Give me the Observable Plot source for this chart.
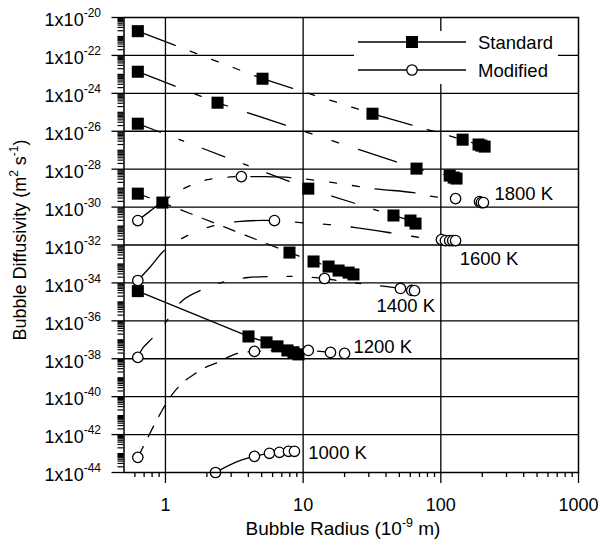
<!DOCTYPE html>
<html>
<head>
<meta charset="utf-8">
<script src="https://cdn.jsdelivr.net/npm/d3@7"></script>
<script src="https://cdn.jsdelivr.net/npm/@observablehq/plot@0.6"></script>
<style>
html,body{margin:0;padding:0;background:#fff;}
#chart svg{display:block;}
</style>
</head>
<body>
<div id="chart"></div>
<script>
// ---- data (radius in 1e-9 m, diffusivity in m^2 s^-1) ----
const temperatures = [1800, 1600, 1400, 1200, 1000];
const temperatureLabels = ["1800 K", "1600 K", "1400 K", "1200 K", "1000 K"];
const labelR = [245, 137, 34.1, 23.2, 10.9];
const labelD = [4.6e-30, 1.82e-33, 6.1e-36, 4.2e-38, 1.03e-43];

// Standard (filled squares)
const std1800R = [0.63, 5.07, 31.9, 144, 188, 197, 208];
const std1800D = [1.9e-21, 5.9e-24, 8.4e-26, 3.6e-27, 2.0e-27, 1.75e-27, 1.55e-27];
const std1600R = [0.63, 2.39, 66.6, 116, 124, 130];
const std1600D = [1.38e-23, 3.2e-25, 1.07e-28, 4.6e-29, 3.6e-29, 3.2e-29];
const std1400R = [0.63, 10.9, 45.3, 60.2, 65.5];
const std1400D = [2.5e-26, 9.4e-30, 3.6e-31, 1.95e-31, 1.35e-31];
const std1200R = [0.63, 0.95, 7.96, 11.9, 15.3, 18.1, 21.4, 23.2];
const std1200D = [5.1e-30, 1.73e-30, 4.0e-33, 1.35e-33, 7.3e-34, 4.5e-34, 3.5e-34, 2.8e-34];
const std1000R = [0.63, 4.01, 5.42, 6.51, 7.69, 8.51, 9.25];
const std1000D = [3.7e-35, 1.5e-37, 7.3e-38, 4.5e-38, 2.75e-38, 2.2e-38, 1.7e-38];

// Modified (open circles)
const mod1800R = [0.63, 3.56, 128, 191, 197, 204];
const mod1800D = [1.95e-31, 4.05e-29, 2.8e-30, 1.95e-30, 1.73e-30, 1.73e-30];
const mod1600R = [0.63, 6.19, 101, 108, 116, 122, 128];
const mod1600D = [1.34e-34, 1.95e-31, 1.94e-32, 1.72e-32, 1.72e-32, 1.72e-32, 1.72e-32];
const mod1400R = [0.63, 14.3, 50.9, 61.5, 64.4];
const mod1400D = [1.18e-38, 1.71e-34, 5.1e-35, 4.0e-35, 3.9e-35];
const mod1200R = [0.63, 4.43, 10.9, 15.8, 20.0];
const mod1200D = [6.3e-44, 2.44e-38, 2.75e-38, 2.16e-38, 1.91e-38];
const mod1000R = [2.31, 4.43, 5.69, 6.73, 7.83, 8.65];
const mod1000D = [1.0e-44, 7.1e-44, 1.03e-43, 1.16e-43, 1.31e-43, 1.31e-43];

// Modified model curves
const curve1800R = [0.63, 0.78, 1.0, 1.4, 2.02, 2.97, 3.56, 4.9, 8.09, 16.6, 32.4, 63.3, 88.5, 128, 191, 197, 204];
const curve1800D = [1.95e-31, 6.5e-31, 2.48e-30, 1.06e-29, 2.8e-29, 3.9e-29, 4.05e-29, 4.05e-29, 3.6e-29, 1.95e-29, 9.4e-30, 5.8e-30, 3.57e-30, 2.8e-30, 1.95e-30, 1.73e-30, 1.73e-30];
const curve1600R = [0.63, 0.78, 0.98, 1.4, 2.12, 3.33, 6.19, 9.56, 15.3, 24.0, 46.8, 71.2, 101, 108, 116, 122, 128];
const curve1600D = [1.34e-34, 7.3e-34, 5.1e-33, 2.79e-32, 9.4e-32, 1.72e-31, 1.95e-31, 1.52e-31, 1.2e-31, 8.3e-32, 4.0e-32, 2.47e-32, 1.94e-32, 1.72e-32, 1.72e-32, 1.72e-32, 1.72e-32];
const curve1400R = [0.63, 0.69, 0.80, 1.0, 1.33, 1.86, 2.73, 4.01, 5.99, 8.8, 14.3, 19.6, 29.8, 50.9, 61.5, 64.4];
const curve1400D = [1.18e-38, 3.95e-38, 1.18e-37, 8.2e-37, 1.19e-35, 4.5e-35, 1.19e-34, 1.93e-34, 2.18e-34, 2.18e-34, 1.71e-34, 1.19e-34, 8.3e-35, 5.1e-35, 4.0e-35, 3.9e-35];
const curve1200R = [0.63, 0.728, 0.818, 0.92, 1.034, 1.182, 1.397, 1.652, 1.952, 2.39, 2.82, 3.33, 4.43, 10.9, 15.8, 20.0];
const curve1200D = [6.3e-44, 5.0e-43, 2.72e-42, 1.32e-41, 5.65e-41, 2.15e-40, 7.2e-40, 1.69e-39, 3.5e-39, 6.4e-39, 1.18e-38, 1.91e-38, 2.44e-38, 2.75e-38, 2.16e-38, 1.91e-38];
const curve1000R = [2.31, 3.22, 4.43, 5.69, 6.73, 7.83, 8.65];
const curve1000D = [1.0e-44, 3.46e-44, 7.1e-44, 1.03e-43, 1.16e-43, 1.31e-43, 1.31e-43];

// axes
const xTickValues = [1, 10, 100, 1000];
const yLabelExponents = [-20, -22, -24, -26, -28, -30, -32, -34, -36, -38, -40, -42, -44];

// ---- build tables ----
const rows = (T, R, D) => R.map((r, i) => ({T, r, d: D[i]}));
const stdSets = {1800: rows(1800, std1800R, std1800D), 1600: rows(1600, std1600R, std1600D), 1400: rows(1400, std1400R, std1400D), 1200: rows(1200, std1200R, std1200D), 1000: rows(1000, std1000R, std1000D)};
const modSets = {1800: rows(1800, mod1800R, mod1800D), 1600: rows(1600, mod1600R, mod1600D), 1400: rows(1400, mod1400R, mod1400D), 1200: rows(1200, mod1200R, mod1200D), 1000: rows(1000, mod1000R, mod1000D)};
const curveSets = {1800: rows(1800, curve1800R, curve1800D), 1600: rows(1600, curve1600R, curve1600D), 1400: rows(1400, curve1400R, curve1400D), 1200: rows(1200, curve1200R, curve1200D), 1000: rows(1000, curve1000R, curve1000D)};
const labels = temperatureLabels.map((t, i) => ({t, r: labelR[i], d: labelD[i]}));

const dashes = {1800: "40,16,7,16,7,16,7,16", 1600: "40,21,7,21,7,21", 1400: "24,20,5,20", 1200: "12,11", 1000: null};

const yMajor = yLabelExponents.map(e => Number("1e" + e));
const yGrid = yMajor.filter(v => v < 1e-21 && v > 1e-43);
const yMinor = [];
for (let e = -44; e < -20; e++) {
  for (let k = 1; k <= 9; k++) {
    if (k === 1 && e % 2 === 0) continue;
    yMinor.push(k * Number("1e" + e));
  }
}
const xMinor = [];
for (let e = -1; e <= 2; e++) {
  for (let k = 2; k <= 9; k++) {
    const v = k * Number("1e" + e);
    if (v > 0.5) xMinor.push(v);
  }
}

const lineMarks = [];
for (const T of temperatures) {
  lineMarks.push(Plot.line(stdSets[T], {x: "r", y: "d", stroke: "#000", strokeWidth: 1.3, strokeDasharray: dashes[T]}));
  lineMarks.push(Plot.line(curveSets[T], {x: "r", y: "d", stroke: "#000", strokeWidth: 1.3, curve: "catmull-rom", strokeDasharray: dashes[T]}));
}
const allStd = temperatures.flatMap(T => stdSets[T]);
const allMod = temperatures.flatMap(T => modSets[T]);

const FONT = "'Liberation Sans', Arial, Helvetica, sans-serif";

const plot = Plot.plot({
  width: 599,
  height: 540,
  marginLeft: 123.5,
  marginRight: 21,
  marginTop: 17,
  marginBottom: 68,
  x: {type: "log", domain: [0.5, 1000], axis: null},
  y: {type: "log", domain: [1e-44, 1e-20], axis: null},
  style: {fontFamily: FONT, fontSize: "18px", color: "#000", background: "#fff", overflow: "visible"},
  marks: [
    Plot.ruleY(yGrid, {stroke: "#000", strokeWidth: 1.3}),
    Plot.ruleX([1, 10, 100], {stroke: "#000", strokeWidth: 1.3}),
    Plot.axisX(xMinor, {tickSize: 5, tickFormat: () => "", label: null, strokeWidth: 1.3}),
    Plot.axisX(xTickValues, {tickSize: 11, tickPadding: 15, tickFormat: d => String(d), label: null, strokeWidth: 1.3, fontSize: 18}),
    Plot.axisY(yMinor, {tickSize: 6, tickFormat: () => "", label: null, strokeWidth: 1.2}),
    Plot.axisY(yMajor, {tickSize: 12, tickPadding: 11, tickFormat: d => String(Math.round(Math.log10(d))), label: null, strokeWidth: 1.3, fontSize: 18}),
    ...lineMarks,
    Plot.dot(allStd, {x: "r", y: "d", symbol: "square", r: 6.8, fill: "#000", stroke: "none"}),
    Plot.dot(allMod, {x: "r", y: "d", symbol: "circle", r: 5.2, fill: "#fff", stroke: "#000", strokeWidth: 1.3}),
    Plot.text(labels, {x: "r", y: "d", text: "t", textAnchor: "start", fontSize: 18.5, fill: "#000"}),
    Plot.frame({stroke: "#000", strokeWidth: 1.5})
  ]
});

document.getElementById("chart").appendChild(plot);
const svg = d3.select(plot);

// superscript y tick labels: 1x10^n
svg.selectAll('g[aria-label="y-axis tick label"] text').each(function () {
  const t = d3.select(this);
  const e = t.text();
  if (!e) return;
  t.text(null);
  t.append("tspan").attr("dy", "3px").text("1x10");
  t.append("tspan").attr("dy", "-9px").attr("font-size", "12px").text(e);
});

// legend
const lg = svg.append("g").attr("font-family", FONT).attr("font-size", "18.5px").attr("text-anchor", "start");
lg.append("rect").attr("x", 354).attr("y", 31).attr("width", 204).attr("height", 53).attr("fill", "#fff");
lg.append("line").attr("x1", 358).attr("x2", 466).attr("y1", 42).attr("y2", 42).attr("stroke", "#000").attr("stroke-width", 1.3);
lg.append("rect").attr("x", 406).attr("y", 36).attr("width", 12).attr("height", 12).attr("fill", "#000");
lg.append("text").attr("x", 478).attr("y", 42).attr("dy", "0.36em").attr("text-anchor", "start").text("Standard");
lg.append("line").attr("x1", 358).attr("x2", 466).attr("y1", 70).attr("y2", 70).attr("stroke", "#000").attr("stroke-width", 1.3);
lg.append("circle").attr("cx", 412).attr("cy", 70).attr("r", 5.2).attr("fill", "#fff").attr("stroke", "#000").attr("stroke-width", 1.3);
lg.append("text").attr("x", 478).attr("y", 70).attr("dy", "0.36em").attr("text-anchor", "start").text("Modified");

// axis titles
const xt = svg.append("text").attr("font-family", FONT).attr("font-size", "19px").attr("text-anchor", "middle")
  .attr("x", 343).attr("y", 535);
xt.append("tspan").text("Bubble Radius (10");
xt.append("tspan").attr("dy", "-8px").attr("font-size", "12.5px").text("-9");
xt.append("tspan").attr("dy", "8px").text(" m)");

const yt = svg.append("text").attr("font-family", FONT).attr("font-size", "18px").attr("text-anchor", "middle")
  .attr("transform", "translate(26,240) rotate(-90)");
yt.append("tspan").text("Bubble Diffusivity (m");
yt.append("tspan").attr("dy", "-8px").attr("font-size", "12px").text("2");
yt.append("tspan").attr("dy", "8px").text(" s");
yt.append("tspan").attr("dy", "-8px").attr("font-size", "12px").text("-1");
yt.append("tspan").attr("dy", "8px").text(")");
</script>
</body>
</html>
